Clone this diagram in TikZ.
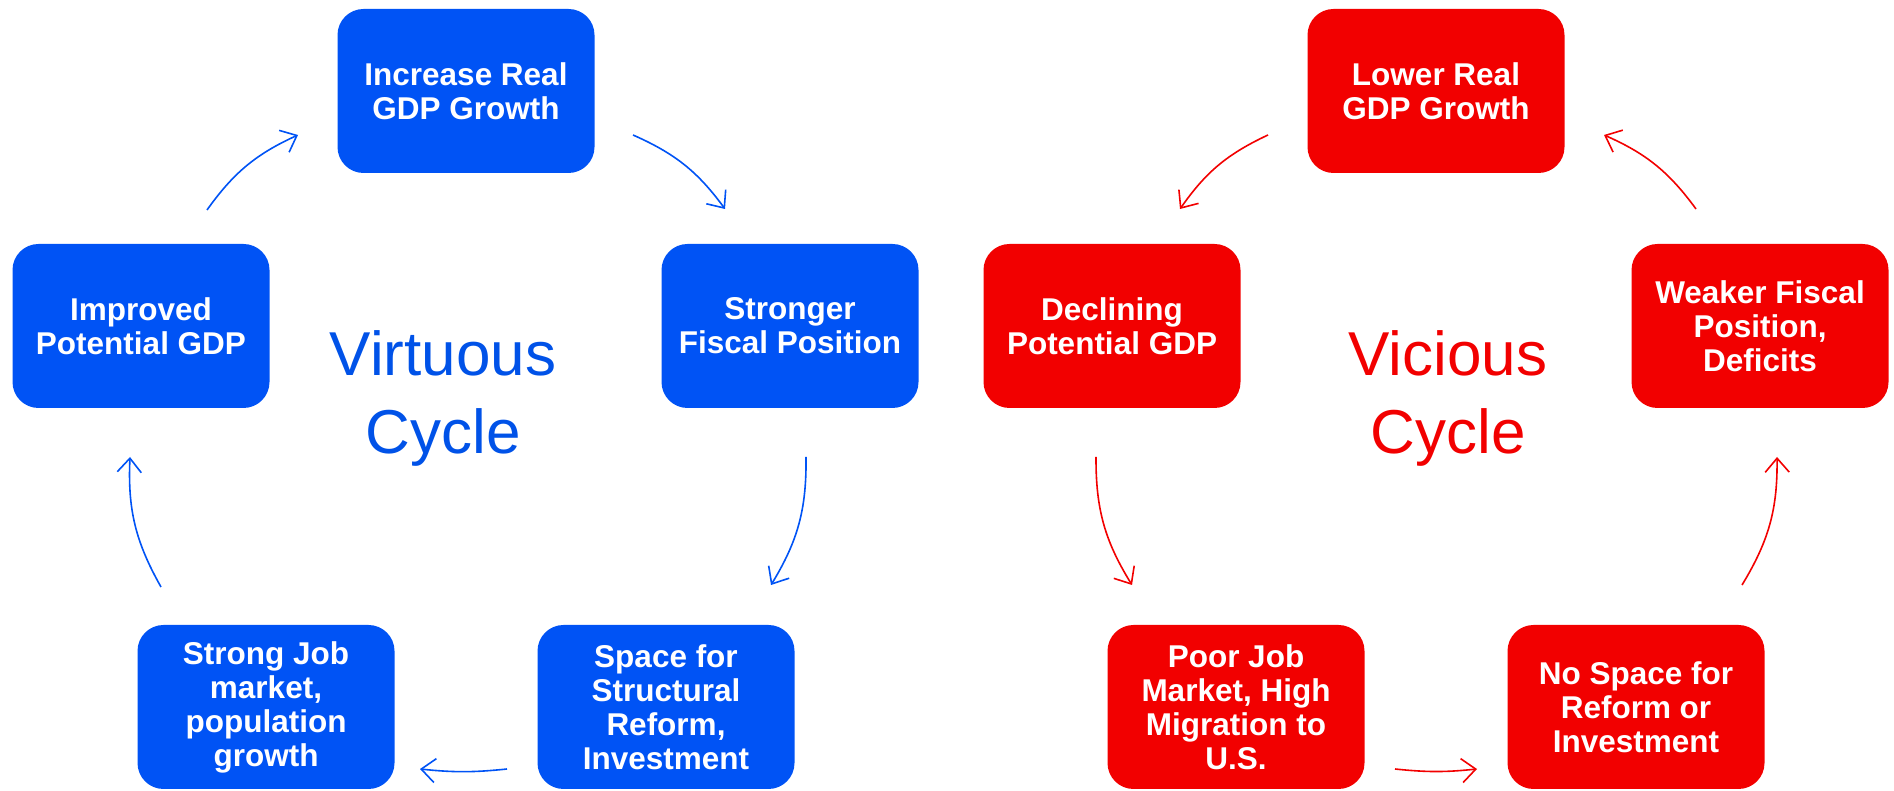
\documentclass[tikz,border=0pt]{standalone}
\usepackage{fontspec}
\setmainfont{Liberation Sans}
\usetikzlibrary{arrows.meta}
\definecolor{vblue}{RGB}{0,83,245}
\definecolor{vbluetxt}{RGB}{0,82,232}
\definecolor{vred}{RGB}{242,0,0}
\begin{document}
\begin{tikzpicture}[x=1pt,y=1pt,
  box/.style={rounded corners=26pt, minimum width=257pt, minimum height=164pt,
    inner sep=0pt, align=center, text=white,
    font=\bfseries\fontsize{31.5}{34}\selectfont},
  bbox/.style={box, fill=vblue},
  rbox/.style={box, fill=vred},
  conn/.style={line width=1.6pt, -{Straight Barb[length=14pt,width=24pt]}},
  bconn/.style={conn, draw=vblue},
  rconn/.style={conn, draw=vred},
  biglabel/.style={align=center, font=\fontsize{62}{78}\selectfont}
]
\useasboundingbox (0,0) rectangle (1894,791);

% Virtuous cycle
\node[bbox] (inc) at (466,700) {Increase Real\\GDP Growth};
\node[bbox] (imp) at (141,465) {Improved\\Potential GDP};
\node[bbox] (str) at (790,465) {Stronger\\Fiscal Position};
\node[bbox] (job) at (266,84) {Strong Job\\market,\\population\\growth};
\node[bbox] (spc) at (666,84) {Space for\\Structural\\Reform,\\Investment};
\node[biglabel, text=vbluetxt] (vl) at (443,393) {Virtuous\\Cycle};

% Vicious cycle
\node[rbox] (low) at (1436,700) {Lower Real\\GDP Growth};
\node[rbox] (dec) at (1112,465) {Declining\\Potential GDP};
\node[rbox] (wea) at (1760,465) {Weaker Fiscal\\Position,\\Deficits};
\node[rbox] (poor) at (1236,84) {Poor Job\\Market, High\\Migration to\\U.S.};
\node[rbox] (nos) at (1636,84) {No Space for\\Reform or\\Investment};
\node[biglabel, text=vred] (cl) at (1448,393) {Vicious\\Cycle};

% blue arrow end points
\coordinate (a1s) at (207,581); \coordinate (a1e) at (298,656);
\coordinate (a2s) at (633,656); \coordinate (a2e) at (725,582);
\coordinate (a3s) at (806,334); \coordinate (a3e) at (771,206);
\coordinate (a4s) at (507,22);  \coordinate (a4e) at (420,22);
\coordinate (a5s) at (161,204); \coordinate (a5e) at (130,334);

\draw[bconn] (a1s) to[bend left=15] (a1e);
\draw[bconn] (a2s) to[bend left=15] (a2e);
\draw[bconn] (a3s) to[bend left=16] (a3e);
\draw[bconn] (a4s) to[bend left=6] (a4e);
\draw[bconn] (a5s) to[bend left=16] (a5e);

% red arrow end points
\coordinate (r1s) at (1268,656); \coordinate (r1e) at (1180,582);
\coordinate (r2s) at (1096,334); \coordinate (r2e) at (1132,206);
\coordinate (r3s) at (1395,22);  \coordinate (r3e) at (1477,22);
\coordinate (r4s) at (1742,206); \coordinate (r4e) at (1777,334);
\coordinate (r5s) at (1696,582); \coordinate (r5e) at (1604,656);

\draw[rconn] (r1s) to[bend right=15] (r1e);
\draw[rconn] (r2s) to[bend right=16] (r2e);
\draw[rconn] (r3s) to[bend right=6] (r3e);
\draw[rconn] (r4s) to[bend right=16] (r4e);
\draw[rconn] (r5s) to[bend right=15] (r5e);
\end{tikzpicture}
\end{document}
